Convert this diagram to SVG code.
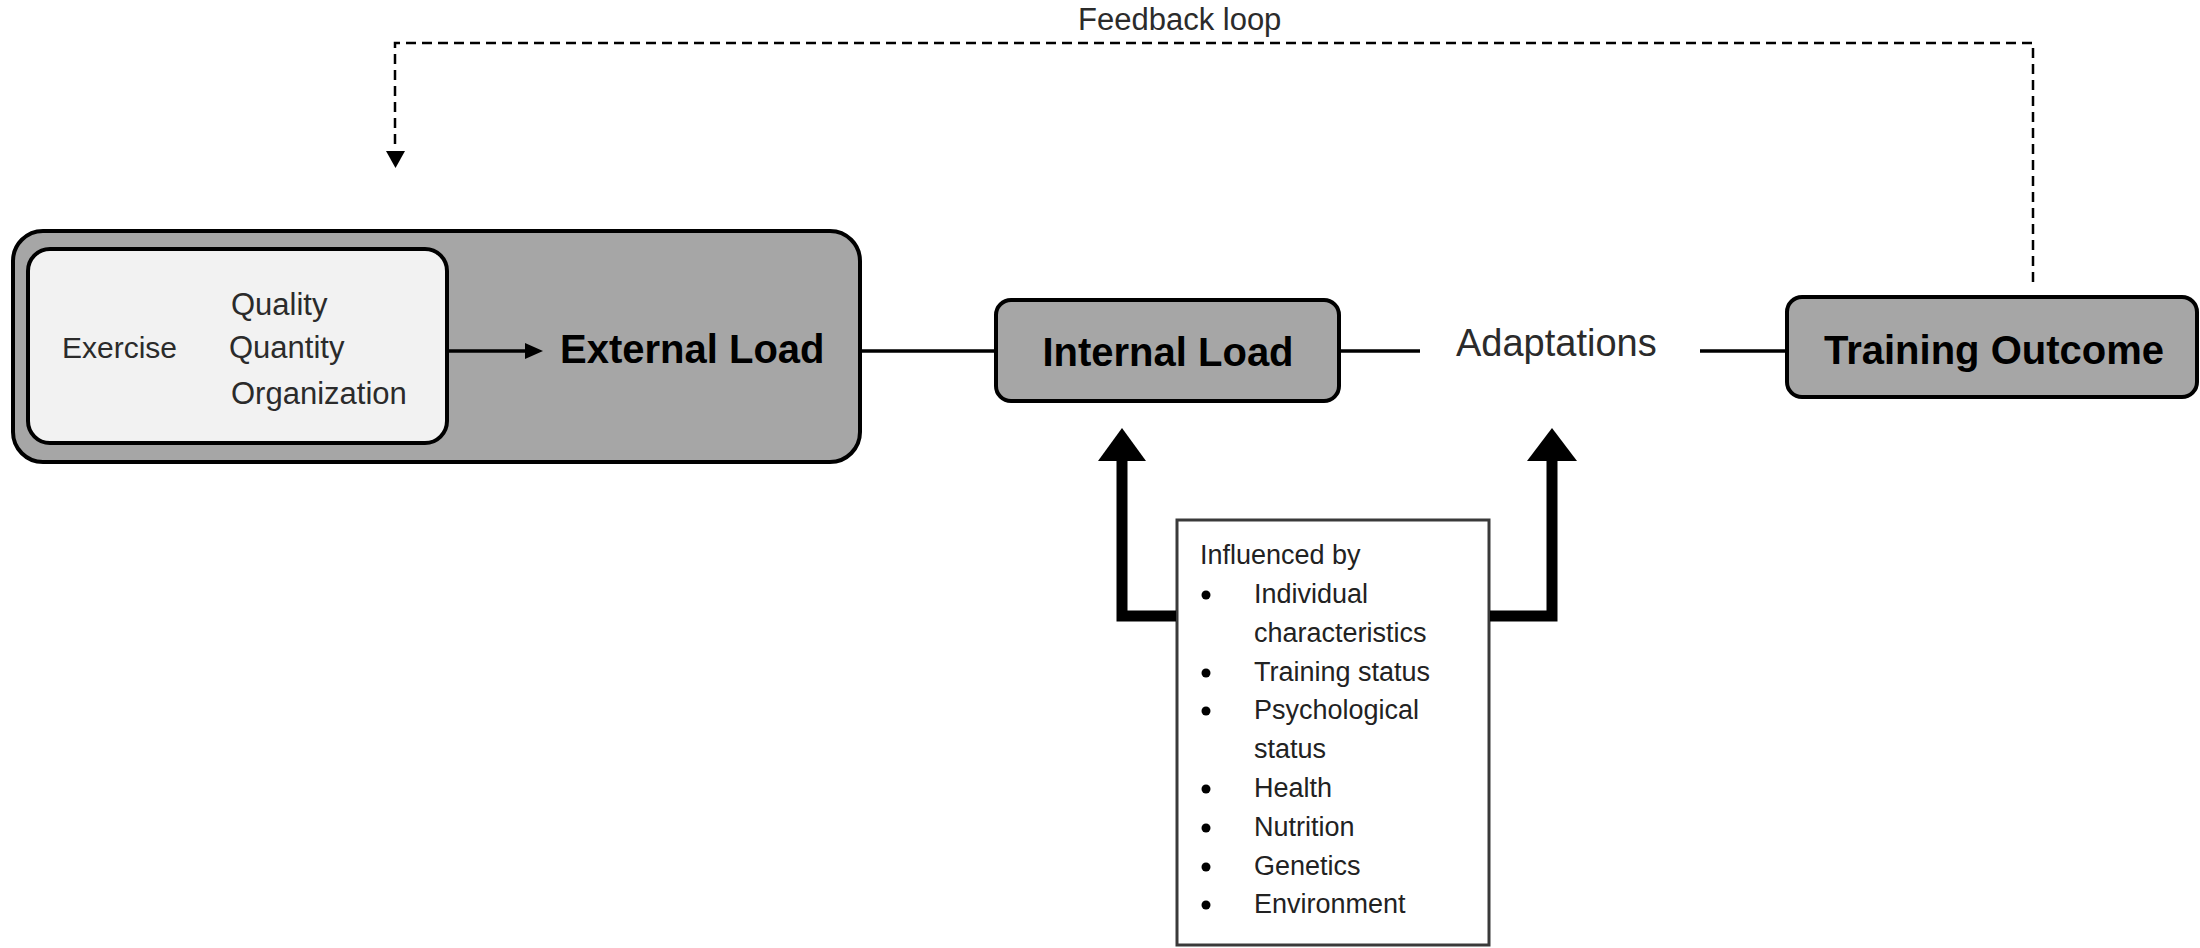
<svg xmlns="http://www.w3.org/2000/svg" width="2200" height="948" viewBox="0 0 2200 948">
<style>
  .box{fill:#a6a6a6;stroke:#000;stroke-width:4}
  .inner{fill:#f2f2f2;stroke:#000;stroke-width:4}
  .bold{font-family:"Liberation Sans",Arial,sans-serif;font-weight:bold;font-size:40px;fill:#000}
  .reg{font-family:"Liberation Sans",Arial,sans-serif;fill:#2b2b2b}
  .list{font-family:"Liberation Sans",Arial,sans-serif;font-size:27px;fill:#222}
  .line{stroke:#000;stroke-width:3.5;fill:none}
  .thick{stroke:#000;stroke-width:11;fill:none;stroke-linejoin:miter;stroke-linecap:butt}
  .dash{stroke:#000;stroke-width:2.5;fill:none;stroke-dasharray:10 6}
</style>
<rect width="2200" height="948" fill="#fff"/>

<g id="feedback-label">
  <text class="reg" x="1078" y="30" font-size="31">Feedback loop</text>
</g>

<g id="external-load">
  <rect class="box" x="13" y="231" width="847" height="231" rx="30"/>
  <rect class="inner" x="28" y="249" width="419" height="194" rx="22"/>
  <text class="reg" x="62" y="358" font-size="30">Exercise</text>
  <text class="reg" x="231" y="315" font-size="31">Quality</text>
  <text class="reg" x="229" y="358" font-size="31">Quantity</text>
  <text class="reg" x="231" y="404" font-size="31">Organization</text>
  <text class="bold" x="560" y="363">External Load</text>
</g>

<g id="internal-load">
  <rect class="box" x="996" y="300" width="343" height="101" rx="15"/>
  <text class="bold" x="1168" y="366" text-anchor="middle">Internal Load</text>
</g>

<g id="adaptations">
  <text class="reg" x="1456" y="356" font-size="38">Adaptations</text>
</g>

<g id="training-outcome">
  <rect class="box" x="1787" y="297" width="410" height="100" rx="15"/>
  <text class="bold" x="1994" y="364" text-anchor="middle">Training Outcome</text>
</g>

<g id="influences">
  <rect x="1177" y="520" width="312" height="425" fill="#fff" stroke="#3a3a3a" stroke-width="3"/>
  <text class="list" x="1200" y="564">Influenced by</text>
  <g fill="#000">
    <circle cx="1206" cy="595" r="4.5"/>
    <circle cx="1206" cy="673" r="4.5"/>
    <circle cx="1206" cy="711" r="4.5"/>
    <circle cx="1206" cy="789" r="4.5"/>
    <circle cx="1206" cy="828" r="4.5"/>
    <circle cx="1206" cy="867" r="4.5"/>
    <circle cx="1206" cy="905" r="4.5"/>
  </g>
  <text class="list" x="1254" y="603">Individual</text>
  <text class="list" x="1254" y="642">characteristics</text>
  <text class="list" x="1254" y="681">Training status</text>
  <text class="list" x="1254" y="719">Psychological</text>
  <text class="list" x="1254" y="758">status</text>
  <text class="list" x="1254" y="797">Health</text>
  <text class="list" x="1254" y="836">Nutrition</text>
  <text class="list" x="1254" y="875">Genetics</text>
  <text class="list" x="1254" y="913">Environment</text>
</g>

<g id="connectors">
  <path class="dash" d="M2033,282 V43 H395 V150"/>
  <polygon points="386,151 405,151 395.5,168" fill="#000"/>
  <line class="line" x1="449" y1="351" x2="528" y2="351"/>
  <polygon points="525,343 543,351 525,359" fill="#000"/>
  <line class="line" x1="862" y1="351" x2="994" y2="351"/>
  <line class="line" x1="1341" y1="351" x2="1420" y2="351"/>
  <line class="line" x1="1700" y1="351" x2="1785" y2="351"/>
  <polyline class="thick" points="1176,616 1122,616 1122,458"/>
  <polygon points="1098,461 1146,461 1122,428" fill="#000"/>
  <polyline class="thick" points="1490,616 1552,616 1552,458"/>
  <polygon points="1527,461 1577,461 1552,428" fill="#000"/>
</g>
</svg>
